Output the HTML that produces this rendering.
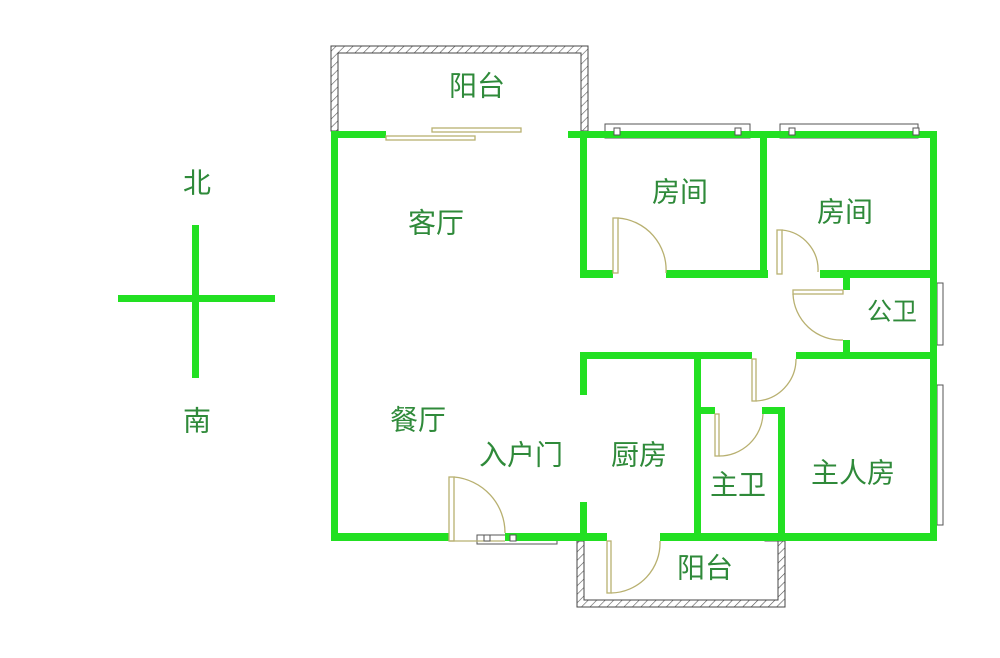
<!DOCTYPE html>
<html><head><meta charset="utf-8"><style>
html,body{margin:0;padding:0;background:#fff;}
svg text{font-family:"Liberation Sans","Noto Sans CJK SC",sans-serif;fill:#2f8a3a;font-size:28px;text-anchor:middle;dominant-baseline:central;}
</style></head><body>
<svg width="1000" height="653" viewBox="0 0 1000 653" xmlns="http://www.w3.org/2000/svg">
<defs>
<pattern id="h" width="6" height="6" patternUnits="userSpaceOnUse" patternTransform="rotate(45)">
<rect width="6" height="6" fill="#fff"/><line x1="0" y1="0" x2="0" y2="6" stroke="#555" stroke-width="1.2"/>
</pattern>
</defs>
<path d="M331 131 V46 H588 V131 H581 V53 H338 V131 Z" fill="url(#h)" stroke="#444" stroke-width="1"/>
<path d="M577 541 V607 H785 V541 H778 V600 H584 V541 Z" fill="url(#h)" stroke="#444" stroke-width="1"/>
<g fill="#fff" stroke="#555" stroke-width="1">
<rect x="605" y="124" width="145" height="14"/>
<rect x="780" y="124" width="138" height="14"/>
<rect x="937" y="283" width="6" height="62"/>
<rect x="937" y="385" width="6" height="140"/>
<rect x="477" y="535" width="80" height="9"/>
<rect x="765" y="534" width="20" height="7"/>
</g>
<g stroke="#888" stroke-width="1">
<line x1="615" y1="133" x2="740" y2="133"/><line x1="790" y1="133" x2="910" y2="133"/>
<line x1="933" y1="293" x2="933" y2="335"/><line x1="933" y1="395" x2="933" y2="515"/>
</g>
<g fill="#22e022">
<rect x="331" y="131" width="7" height="410"/>
<rect x="331" y="131" width="55" height="7"/>
<rect x="568" y="131" width="369" height="7"/>
<rect x="930" y="131" width="7" height="410"/>
<rect x="331" y="533" width="118" height="8"/>
<rect x="505" y="533" width="102" height="8"/>
<rect x="660" y="533" width="277" height="8"/>
<rect x="580" y="131" width="7" height="147"/>
<rect x="580" y="270" width="33" height="8"/>
<rect x="666" y="270" width="102" height="8"/>
<rect x="760" y="131" width="7" height="147"/>
<rect x="820" y="270" width="117" height="8"/>
<rect x="843" y="270" width="7" height="20"/>
<rect x="843" y="340" width="7" height="14"/>
<rect x="580" y="352" width="172" height="7"/>
<rect x="796" y="352" width="141" height="7"/>
<rect x="580" y="352" width="7" height="43"/>
<rect x="580" y="502" width="7" height="39"/>
<rect x="694" y="352" width="7" height="189"/>
<rect x="694" y="407" width="21" height="7"/>
<rect x="762" y="407" width="23" height="7"/>
<rect x="778" y="407" width="7" height="134"/>
<rect x="118" y="295" width="157" height="7"/>
<rect x="192" y="225" width="7" height="153"/>
</g>
<g fill="none" stroke="#b8b070" stroke-width="1.3">
<rect x="386" y="136" width="89" height="4"/>
<rect x="432" y="128" width="89" height="4"/>
<rect x="613" y="218" width="5" height="55"/><path d="M618 218 A52 52 0 0 1 666 273"/>
<rect x="777" y="230" width="5" height="44"/><path d="M782 230 A40 40 0 0 1 818 272"/>
<rect x="793" y="290" width="50" height="4"/><path d="M793 294 A48 48 0 0 0 843 340"/>
<rect x="752" y="359" width="4" height="42"/><path d="M756 401 A42 42 0 0 0 796 359"/>
<rect x="715" y="414" width="4" height="42"/><path d="M719 456 A44 44 0 0 0 763 414"/>
<rect x="449" y="477" width="5" height="64"/><path d="M454 477 A56 56 0 0 1 505 533"/><line x1="449" y1="541" x2="505" y2="541"/>
<rect x="607" y="541" width="4" height="52"/><path d="M611 593 A50 50 0 0 0 660 541"/>
</g>
<g fill="#fff" stroke="#555" stroke-width="1">
<rect x="614" y="128" width="6" height="7"/><rect x="735" y="128" width="6" height="7"/>
<rect x="789" y="128" width="6" height="7"/><rect x="913" y="128" width="6" height="7"/>
<rect x="484" y="535" width="6" height="6"/><rect x="510" y="535" width="6" height="6"/>
</g>
<text x="197" y="183">北</text>
<text x="197" y="421">南</text>
<text x="477" y="86">阳台</text>
<text x="436" y="223">客厅</text>
<text x="680" y="192">房间</text>
<text x="845" y="212">房间</text>
<text x="892" y="312" style="font-size:25px">公卫</text>
<text x="418" y="420">餐厅</text>
<text x="521" y="455">入户门</text>
<text x="639" y="455">厨房</text>
<text x="738" y="485">主卫</text>
<text x="853" y="473">主人房</text>
<text x="705" y="568">阳台</text>
</svg>
</body></html>
